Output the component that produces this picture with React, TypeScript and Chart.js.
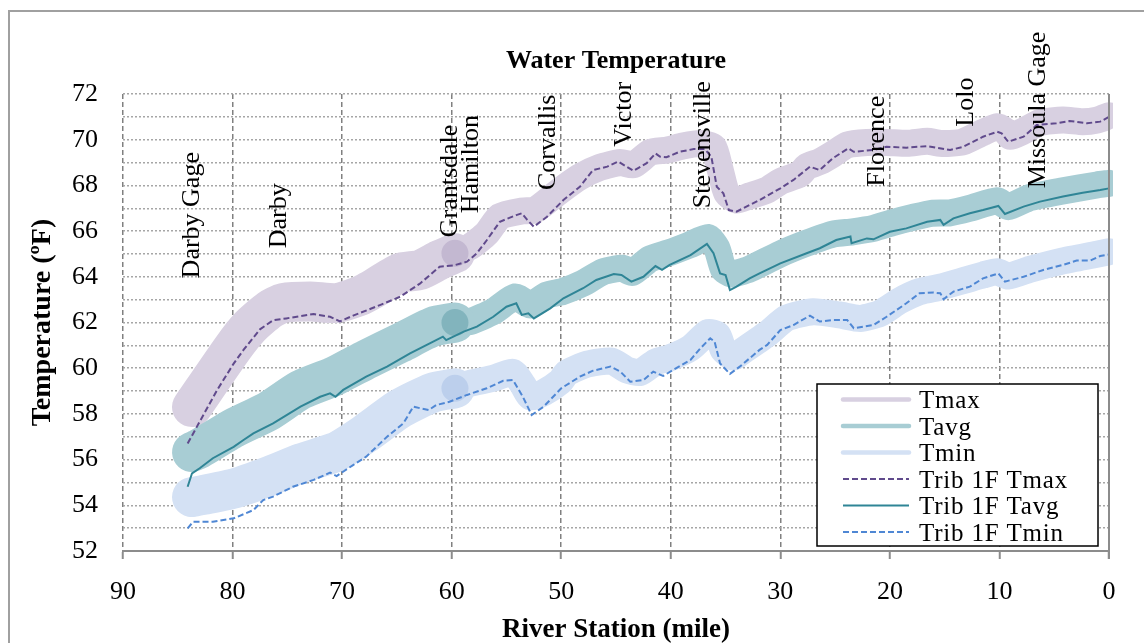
import React, { useEffect, useRef } from "react";
import { Chart, registerables } from "chart.js";

Chart.register(...registerables);

const SERIF = "'Liberation Serif', 'Times New Roman', Times, serif";

// ---------------- data (river mile, temperature °F) ----------------
const tribTmaxMiles = [84.1, 83.3, 81.4, 79.9, 79.0, 77.5, 76.3, 75.1, 72.6, 71.1, 70.2, 69.0, 66.5, 64.7, 62.9, 61.1, 59.8, 58.6, 57.7, 56.8, 55.6, 54.1, 53.6, 53.1, 52.5, 51.3, 49.8, 48.3, 47.1, 45.8, 44.8, 43.4, 42.2, 41.4, 41.0, 40.4, 39.2, 37.9, 36.9, 36.3, 35.8, 35.2, 34.7, 34.0, 33.1, 31.9, 30.0, 28.8, 27.3, 26.4, 25.2, 23.8, 23.3, 21.5, 20.3, 18.5, 16.6, 14.5, 13.3, 11.5, 10.2, 9.8, 9.2, 7.8, 6.6, 4.8, 3.6, 2.0, 0.8, 0.0];
const tribTmaxTemps = [56.7, 57.4, 59.05, 60.2, 60.8, 61.7, 62.1, 62.18, 62.37, 62.25, 62.05, 62.3, 62.77, 63.13, 63.7, 64.44, 64.5, 64.66, 65.03, 65.6, 66.41, 66.7, 66.78, 66.49, 66.19, 66.63, 67.36, 67.94, 68.67, 68.82, 69.04, 68.64, 68.97, 69.4, 69.26, 69.23, 69.47, 69.59, 69.59, 69.26, 67.94, 67.65, 66.92, 66.85, 67.07, 67.36, 67.87, 68.24, 68.82, 68.67, 69.19, 69.62, 69.47, 69.55, 69.69, 69.65, 69.72, 69.55, 69.69, 70.13, 70.35, 70.28, 69.91, 70.13, 70.64, 70.72, 70.82, 70.72, 70.79, 71.0];

const tribTavgMiles = [84.1, 83.7, 83.0, 81.8, 79.9, 79.0, 78.1, 76.3, 73.8, 72.0, 71.1, 70.6, 69.9, 67.8, 65.9, 63.8, 62.0, 60.8, 60.5, 58.9, 57.7, 56.2, 55.0, 54.1, 53.6, 53.0, 52.5, 51.0, 49.8, 48.0, 46.8, 45.2, 44.5, 43.6, 42.5, 41.4, 40.8, 40.1, 38.2, 36.7, 36.1, 35.5, 35.0, 34.6, 34.0, 32.8, 31.9, 30.0, 27.6, 26.4, 24.9, 23.6, 23.5, 22.1, 21.5, 20.0, 18.5, 16.6, 15.4, 15.1, 14.2, 12.7, 11.5, 10.1, 9.5, 7.8, 6.3, 4.2, 2.4, 0.8, 0.0];
const tribTavgTemps = [54.81, 55.4, 55.62, 56.06, 56.56, 56.86, 57.15, 57.59, 58.32, 58.75, 58.9, 58.75, 59.05, 59.63, 60.07, 60.65, 61.09, 61.38, 61.23, 61.6, 61.82, 62.25, 62.69, 62.84, 62.33, 62.4, 62.18, 62.62, 63.06, 63.5, 63.86, 64.12, 64.08, 63.79, 64.0, 64.47, 64.3, 64.52, 64.95, 65.44, 65.03, 64.15, 64.08, 63.42, 63.57, 63.93, 64.15, 64.59, 65.03, 65.25, 65.61, 65.76, 65.47, 65.68, 65.64, 65.97, 66.12, 66.41, 66.49, 66.27, 66.56, 66.78, 66.92, 67.1, 66.75, 67.07, 67.29, 67.51, 67.68, 67.8, 67.87];

const tribTminMiles = [84.1, 83.6, 81.8, 79.9, 78.1, 77.2, 76.3, 74.5, 72.6, 71.1, 70.5, 69.0, 67.8, 65.9, 64.4, 63.5, 62.9, 62.1, 61.4, 60.2, 58.6, 56.8, 55.3, 54.4, 53.5, 52.7, 51.6, 50.0, 48.3, 47.1, 45.5, 44.6, 43.7, 42.5, 41.6, 40.7, 39.8, 38.2, 37.3, 36.4, 36.0, 35.5, 34.6, 33.7, 31.9, 31.2, 30.0, 28.8, 27.3, 26.4, 25.2, 23.9, 23.3, 21.5, 20.3, 18.5, 17.3, 16.0, 15.4, 15.1, 14.2, 12.7, 11.5, 10.1, 9.5, 7.8, 6.0, 4.2, 2.95, 1.7, 0.8, 0.0];
const tribTminTemps = [52.99, 53.28, 53.28, 53.43, 53.79, 54.23, 54.38, 54.81, 55.11, 55.43, 55.28, 55.76, 56.13, 57.0, 57.59, 58.32, 58.25, 58.17, 58.39, 58.53, 58.83, 59.12, 59.45, 59.48, 58.75, 57.95, 58.32, 59.12, 59.63, 59.89, 60.07, 59.85, 59.41, 59.48, 59.85, 59.66, 59.92, 60.36, 60.87, 61.31, 61.16, 60.21, 59.75, 60.07, 60.8, 61.02, 61.67, 61.89, 62.3, 62.04, 62.11, 62.11, 61.75, 61.89, 62.25, 62.84, 63.28, 63.31, 63.28, 63.02, 63.35, 63.57, 63.93, 64.15, 63.79, 64.0, 64.3, 64.52, 64.71, 64.71, 64.91, 64.98];

const tmaxMiles = [83.7, 80.0, 78.4, 76.6, 75.4, 72.9, 70.5, 68.4, 67.5, 64.7, 62.9, 61.1, 59.7, 58.3, 56.8, 55.6, 53.6, 52.4, 50.2, 48.3, 46.5, 44.6, 43.4, 41.9, 40.3, 38.9, 37.3, 36.1, 35.5, 34.9, 34.0, 32.8, 31.2, 30.0, 28.2, 27.6, 26.4, 25.2, 23.9, 22.1, 20.3, 18.4, 16.6, 15.4, 14.5, 13.3, 11.5, 10.2, 9.5, 9.0, 7.8, 6.3, 4.2, 2.4, 1.1, 0.0];
const tmaxTemps = [58.3, 60.87, 61.83, 62.57, 62.85, 62.92, 62.85, 63.16, 63.38, 64.17, 64.3, 64.74, 65.03, 65.32, 65.9, 66.64, 66.88, 66.92, 67.73, 68.37, 68.78, 69.0, 68.9, 69.44, 69.55, 69.72, 69.83, 69.68, 68.7, 67.67, 67.36, 67.54, 67.8, 68.17, 68.5, 68.82, 69.04, 69.37, 69.77, 69.88, 69.88, 69.84, 69.93, 69.84, 69.84, 69.91, 70.32, 70.57, 70.4, 70.15, 70.38, 70.75, 70.86, 70.79, 70.86, 71.05];

const tavgMiles = [83.7, 83.0, 79.9, 76.8, 73.8, 70.8, 67.7, 64.7, 61.7, 59.7, 58.3, 56.2, 54.2, 52.8, 51.3, 49.9, 48.0, 46.2, 44.4, 43.5, 41.9, 40.1, 38.3, 36.6, 35.8, 35.2, 34.5, 33.7, 32.8, 30.0, 27.6, 25.2, 23.4, 21.5, 19.7, 17.9, 16.2, 14.5, 12.7, 10.2, 9.2, 7.2, 4.2, 1.1, 0.0];
const tavgTemps = [56.33, 56.49, 57.38, 58.1, 59.05, 59.63, 60.4, 61.1, 61.82, 62.0, 62.04, 62.48, 63.12, 62.77, 63.2, 63.35, 63.72, 64.22, 64.37, 64.19, 64.78, 65.06, 65.39, 65.72, 65.26, 64.34, 64.12, 64.2, 64.34, 65.0, 65.47, 65.87, 65.97, 66.12, 66.38, 66.6, 66.78, 66.8, 67.0, 67.33, 67.07, 67.47, 67.76, 68.02, 68.09];

const tminMiles = [83.7, 82.7, 79.7, 76.8, 73.7, 70.6, 68.0, 64.7, 61.7, 59.7, 58.3, 56.2, 54.4, 53.5, 52.8, 51.6, 50.1, 49.5, 47.6, 45.4, 44.0, 42.8, 41.4, 40.1, 38.2, 36.6, 35.7, 35.2, 34.3, 33.3, 31.2, 29.4, 27.0, 24.6, 22.7, 20.9, 19.1, 17.3, 15.4, 13.1, 11.5, 10.2, 9.2, 7.2, 4.2, 1.1, 0.0];
const tminTemps = [54.36, 54.45, 54.76, 55.25, 55.85, 56.33, 57.1, 58.24, 58.94, 59.12, 59.34, 59.56, 59.82, 59.27, 58.75, 58.93, 59.41, 59.78, 60.18, 60.31, 59.92, 59.81, 60.27, 60.45, 60.88, 61.56, 61.45, 60.8, 60.49, 60.8, 61.5, 62.2, 62.47, 62.33, 62.18, 62.4, 62.95, 63.35, 63.55, 63.86, 64.08, 64.22, 64.03, 64.33, 64.7, 64.99, 65.1];

// mile where the wide upstream band meets the narrow downstream band
const JUNCTION_MILE = 59.7;

const locationNames = ["Darby Gage", "Darby", "Grantsdale", "Hamilton", "Corvallis", "Victor", "Stevensville", "Florence", "Lolo", "Missoula Gage"];
const locationMiles = [83.1, 75.1, 59.5, 57.6, 50.6, 43.6, 36.4, 20.5, 12.4, 5.8];
const locationTemps = [63.93, 65.25, 65.73, 66.78, 67.8, 69.69, 67.0, 67.94, 70.57, 67.87];

const X_MIN = 0, X_MAX = 90, X_STEP = 10;
const Y_MIN = 52, Y_MAX = 72, Y_LABEL_STEP = 2;

const chartTitle = "Water Temperature";
const xTitle = "River Station (mile)";
const yTitle = "Temperature (ºF)";

// ---------------- helpers ----------------
const pts = (m: number[], t: number[]) => m.map((x, i) => ({ x, y: t[i] }));
const upstream = (m: number[], t: number[]) => pts(m, t).filter((p) => p.x >= JUNCTION_MILE);
const downstream = (m: number[], t: number[]) => pts(m, t).filter((p) => p.x <= JUNCTION_MILE);
const atJunction = (m: number[], t: number[]) => pts(m, t).filter((p) => p.x === JUNCTION_MILE);

const CLIP = { left: 40, top: 40, right: 4, bottom: 40 };

function bandDatasets(label: string, m: number[], t: number[], color: string, dark: string, order: number) {
  const base = {
    borderColor: color,
    backgroundColor: color,
    borderCapStyle: "round",
    borderJoinStyle: "round",
    pointRadius: 0,
    tension: 0.2,
    fill: false,
    order,
    clip: CLIP,
  };
  return [
    { ...base, label, data: upstream(m, t), borderWidth: 40, legendText: label, legendLineWidth: 4.5, legendCap: "round" },
    { ...base, label: label + " (dn)", data: downstream(m, t), borderWidth: 27 },
    {
      label: label + " (pt)",
      data: atJunction(m, t),
      showLine: false,
      pointRadius: 13.5,
      pointBorderWidth: 0,
      pointBackgroundColor: dark,
      borderColor: dark,
      order: order - 3,
      clip: CLIP,
    },
  ];
}

function tribDataset(label: string, m: number[], t: number[], color: string, dash: number[], order: number) {
  return {
    label,
    data: pts(m, t),
    borderColor: color,
    backgroundColor: color,
    borderWidth: 2,
    borderDash: dash,
    pointRadius: 0,
    tension: 0,
    fill: false,
    order,
    clip: CLIP,
    legendText: label,
    legendLineWidth: 2,
    legendCap: "butt",
  };
}

// ---------------- plugins ----------------
const decorPlugin = {
  id: "decor",
  afterDatasetsDraw(chart: any) {
    const { ctx, chartArea, scales } = chart;
    ctx.save();
    // solid vertical axis line at the right edge (mile 0)
    ctx.strokeStyle = "#8c8c8c";
    ctx.lineWidth = 2;
    ctx.setLineDash([]);
    ctx.beginPath();
    ctx.moveTo(chartArea.right, chartArea.top);
    ctx.lineTo(chartArea.right, chartArea.bottom + 8);
    ctx.stroke();
    // location labels
    ctx.fillStyle = "#000";
    ctx.font = `26px ${SERIF}`;
    ctx.textAlign = "left";
    ctx.textBaseline = "alphabetic";
    locationNames.forEach((name, i) => {
      const x = scales.x.getPixelForValue(locationMiles[i]);
      const y = scales.y.getPixelForValue(locationTemps[i]);
      ctx.save();
      ctx.translate(x, y);
      ctx.rotate(-Math.PI / 2);
      ctx.fillText(name, 0, 0);
      ctx.restore();
    });
    ctx.restore();
  },
  afterDraw(chart: any) {
    const { ctx, chartArea } = chart;
    const cx = (chartArea.left + chartArea.right) / 2;
    const cy = (chartArea.top + chartArea.bottom) / 2;
    ctx.save();
    ctx.fillStyle = "#000";
    ctx.textAlign = "center";
    ctx.textBaseline = "alphabetic";
    ctx.font = `bold 26px ${SERIF}`;
    ctx.fillText(chartTitle, cx, chartArea.top - 26);
    ctx.font = `bold 27px ${SERIF}`;
    ctx.fillText(xTitle, cx, chartArea.bottom + 86);
    ctx.save();
    ctx.translate(50, cy);
    ctx.rotate(-Math.PI / 2);
    ctx.font = `bold 28px ${SERIF}`;
    ctx.fillText(yTitle, 0, 0);
    ctx.restore();

    // boxed legend
    const items = chart.data.datasets.filter((d: any) => d.legendText);
    const w = 281, h = 162;
    const left = chartArea.right - 292;
    const top = chartArea.bottom - 167;
    ctx.fillStyle = "#fff";
    ctx.fillRect(left, top, w, h);
    ctx.lineWidth = 1.5;
    ctx.strokeStyle = "#000";
    ctx.strokeRect(left, top, w, h);
    items.forEach((d: any, i: number) => {
      const y = top + 15.5 + i * 26.5;
      ctx.beginPath();
      ctx.setLineDash(d.borderDash || []);
      ctx.lineWidth = d.legendLineWidth;
      ctx.lineCap = d.legendCap;
      ctx.strokeStyle = d.borderColor;
      ctx.moveTo(left + 26, y);
      ctx.lineTo(left + 92, y);
      ctx.stroke();
      ctx.setLineDash([]);
      ctx.fillStyle = "#000";
      ctx.font = `25px ${SERIF}`;
      ctx.textAlign = "left";
      (ctx as any).letterSpacing = "0.8px";
      ctx.fillText(d.legendText, left + 102, y + 8.5);
      (ctx as any).letterSpacing = "0px";
    });
    ctx.restore();
  },
};

export default function App() {
  const canvasRef = useRef<HTMLCanvasElement | null>(null);

  useEffect(() => {
    if (!canvasRef.current) return;
    const datasets: any[] = [
      ...bandDatasets("Tmax", tmaxMiles, tmaxTemps, "#d8d0e1", "#c3b8d1", 30),
      ...bandDatasets("Tavg", tavgMiles, tavgTemps, "#a8cdd4", "#82b4bd", 29),
      ...bandDatasets("Tmin", tminMiles, tminTemps, "#d4e1f4", "#bccfec", 28),
      tribDataset("Trib 1F Tmax", tribTmaxMiles, tribTmaxTemps, "#604a8c", [6, 3], 3),
      tribDataset("Trib 1F Tavg", tribTavgMiles, tribTavgTemps, "#2f8596", [], 2),
      tribDataset("Trib 1F Tmin", tribTminMiles, tribTminTemps, "#4f87d4", [6, 3], 1),
    ];
    const chart = new Chart(canvasRef.current, {
      type: "line",
      data: { datasets },
      options: {
        responsive: false,
        animation: false,
        layout: { padding: { left: 0, right: 35, top: 94, bottom: 0 } },
        plugins: {
          legend: { display: false },
          tooltip: { enabled: false },
          title: { display: false },
        },
        scales: {
          x: {
            type: "linear",
            reverse: true,
            min: X_MIN,
            max: X_MAX,
            afterFit: (s: any) => {
              s.height = 92;
            },
            ticks: {
              stepSize: X_STEP,
              font: { family: SERIF, size: 26 },
              color: "#000",
              padding: 18,
              maxRotation: 0,
            },
            grid: {
              color: "#808080",
              lineWidth: 1.5,
              tickLength: 8,
              tickColor: "#8c8c8c",
              tickWidth: 2,
              tickBorderDash: [],
            },
            border: { display: true, color: "#8c8c8c", width: 2, dash: [5, 3] },
          },
          y: {
            type: "linear",
            min: Y_MIN,
            max: Y_MAX,
            afterFit: (s: any) => {
              s.width = 123;
            },
            ticks: {
              stepSize: 1,
              autoSkip: false,
              font: { family: SERIF, size: 26 },
              color: "#000",
              padding: 25,
              callback: (v: any) => (Number(v) % Y_LABEL_STEP === 0 ? String(v) : ""),
            },
            grid: { color: "#a6a6a6", lineWidth: 1.5, drawTicks: false },
            border: { display: false, dash: [2, 2] },
          },
        },
      } as any,
      plugins: [decorPlugin],
    });
    return () => chart.destroy();
  }, []);

  return (
    <div style={{ position: "fixed", left: 0, top: 0, width: 1144, height: 643, overflow: "hidden", background: "#fff" }}>
      <div
        style={{
          position: "absolute",
          left: 8,
          top: 10,
          width: 1200,
          height: 700,
          borderLeft: "2px solid #a0a0a0",
          borderTop: "2px solid #a0a0a0",
        }}
      />
      <canvas ref={canvasRef} width={1144} height={643} style={{ position: "absolute", left: 0, top: 0 }} />
    </div>
  );
}
